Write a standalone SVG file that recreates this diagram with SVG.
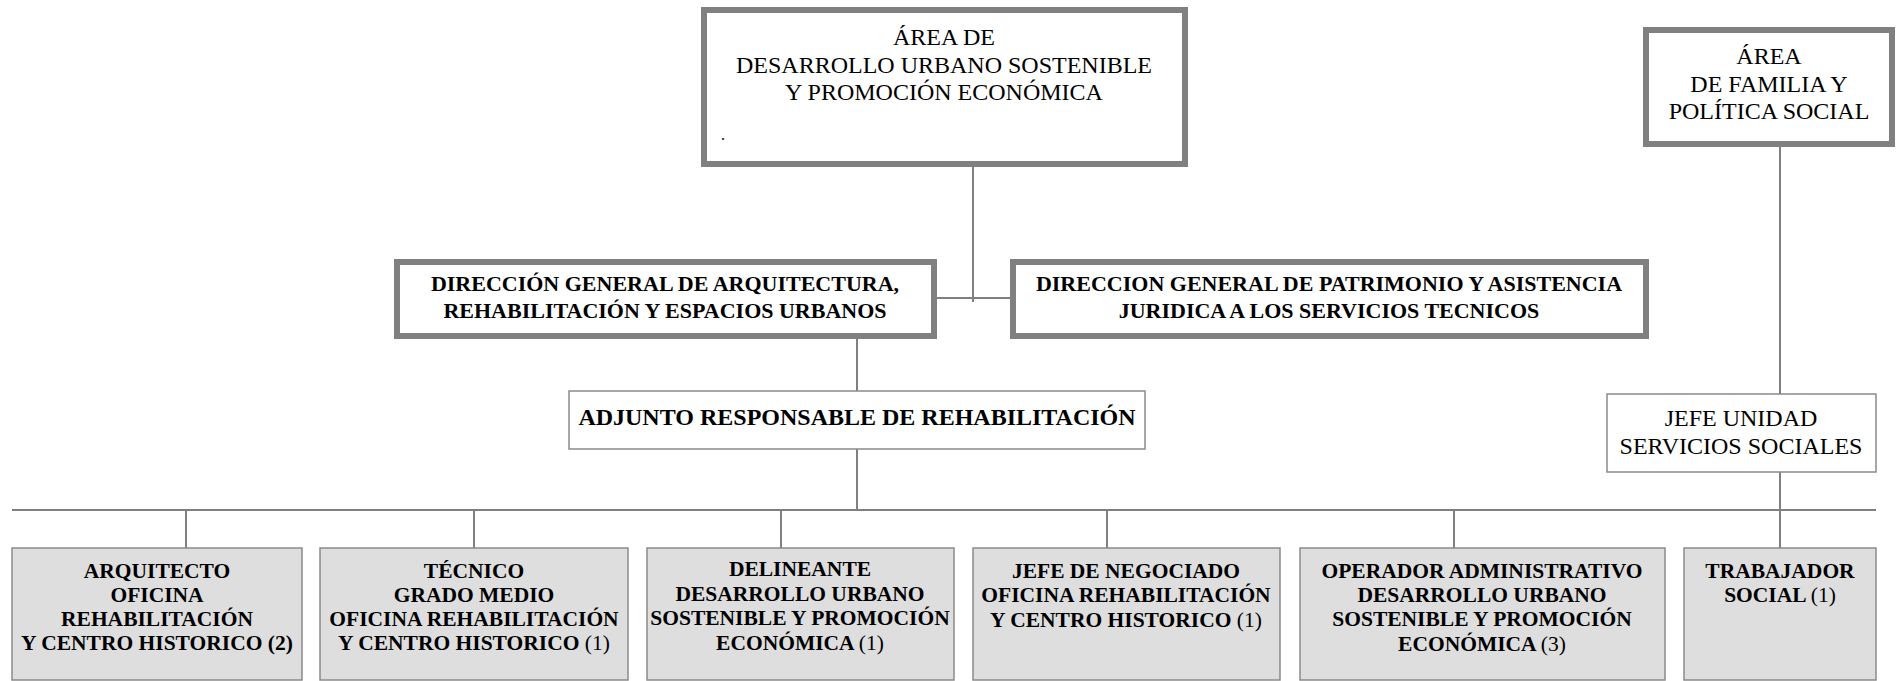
<svg xmlns="http://www.w3.org/2000/svg" width="1896" height="681" viewBox="0 0 1896 681">
<style>
  .thick { fill: #ffffff; stroke: #808080; stroke-width: 6; }
  .thin { fill: #ffffff; stroke: #8a8a8a; stroke-width: 1.5; }
  .grey { fill: #dedede; stroke: #8a8a8a; stroke-width: 1.5; }
  .conn line { stroke: #808080; stroke-width: 2; }
  text { font-family: "Liberation Serif", "Times New Roman", serif; fill: #000; text-anchor: middle; }
  .reg { font-size: 24px; }
  .b22 { font-size: 22px; font-weight: bold; }
  .b24 { font-size: 24px; font-weight: bold; }
  .b21 { font-size: 21.5px; font-weight: bold; }
  .n { font-weight: normal; }
</style>
<rect width="1896" height="681" fill="#ffffff"/>
<g class="conn" id="connectors">
  <line x1="973" y1="167" x2="973" y2="302"/>
  <line x1="937" y1="298" x2="1010" y2="298"/>
  <line x1="857" y1="339" x2="857" y2="391"/>
  <line x1="857" y1="449" x2="857" y2="510"/>
  <line x1="12" y1="510" x2="1876" y2="510"/>
  <line x1="186" y1="510" x2="186" y2="548"/>
  <line x1="474" y1="510" x2="474" y2="548"/>
  <line x1="781" y1="510" x2="781" y2="548"/>
  <line x1="1107" y1="510" x2="1107" y2="548"/>
  <line x1="1454" y1="510" x2="1454" y2="548"/>
  <line x1="1780" y1="147" x2="1780" y2="394"/>
  <line x1="1780" y1="472" x2="1780" y2="548"/>
</g>
<g id="area-desarrollo">
  <rect class="thick" x="704" y="10" width="481" height="154"/>
  <text class="reg" x="944" y="45">ÁREA DE</text>
  <text class="reg" x="944" y="73">DESARROLLO URBANO SOSTENIBLE</text>
  <text class="reg" x="944" y="100">Y PROMOCIÓN ECONÓMICA</text>
  <text x="723" y="140" style="font-size:16px">.</text>
</g>
<g id="area-familia">
  <rect class="thick" x="1646" y="30" width="246" height="114"/>
  <text class="reg" x="1769" y="64">ÁREA</text>
  <text class="reg" x="1769" y="92">DE FAMILIA Y</text>
  <text class="reg" x="1769" y="119">POLÍTICA SOCIAL</text>
</g>
<g id="dg-arquitectura">
  <rect class="thick" x="397" y="262" width="537" height="74"/>
  <text class="b22" x="665" y="291">DIRECCIÓN GENERAL DE ARQUITECTURA,</text>
  <text class="b22" x="665" y="318">REHABILITACIÓN Y ESPACIOS URBANOS</text>
</g>
<g id="dg-patrimonio">
  <rect class="thick" x="1013" y="262" width="633" height="74"/>
  <text class="b22" x="1329" y="291">DIRECCION GENERAL DE PATRIMONIO Y ASISTENCIA</text>
  <text class="b22" x="1329" y="318">JURIDICA A LOS SERVICIOS TECNICOS</text>
</g>
<g id="adjunto">
  <rect class="thin" x="569" y="391" width="576" height="58"/>
  <text class="b24" x="857" y="425">ADJUNTO RESPONSABLE DE REHABILITACIÓN</text>
</g>
<g id="jefe-unidad">
  <rect class="thin" x="1607" y="394" width="269" height="78"/>
  <text class="reg" x="1741" y="426">JEFE UNIDAD</text>
  <text class="reg" x="1741" y="454">SERVICIOS SOCIALES</text>
</g>
<g id="arquitecto">
  <rect class="grey" x="12" y="548" width="290" height="132"/>
  <text class="b21" x="157" y="578">ARQUITECTO</text>
  <text class="b21" x="157" y="602">OFICINA</text>
  <text class="b21" x="157" y="626">REHABILITACIÓN</text>
  <text class="b21" x="157" y="650">Y CENTRO HISTORICO (2)</text>
</g>
<g id="tecnico">
  <rect class="grey" x="320" y="548" width="308" height="132"/>
  <text class="b21" x="474" y="578">TÉCNICO</text>
  <text class="b21" x="474" y="602">GRADO MEDIO</text>
  <text class="b21" x="474" y="626">OFICINA REHABILITACIÓN</text>
  <text class="b21" x="474" y="650">Y CENTRO HISTORICO <tspan class="n">(1)</tspan></text>
</g>
<g id="delineante">
  <rect class="grey" x="647" y="548" width="307" height="132"/>
  <text class="b21" x="800" y="576">DELINEANTE</text>
  <text class="b21" x="800" y="601">DESARROLLO URBANO</text>
  <text class="b21" x="800" y="625">SOSTENIBLE Y PROMOCIÓN</text>
  <text class="b21" x="800" y="650">ECONÓMICA <tspan class="n">(1)</tspan></text>
</g>
<g id="jefe-negociado">
  <rect class="grey" x="973" y="548" width="307" height="132"/>
  <text class="b21" x="1126" y="578">JEFE DE NEGOCIADO</text>
  <text class="b21" x="1126" y="602">OFICINA REHABILITACIÓN</text>
  <text class="b21" x="1126" y="627">Y CENTRO HISTORICO <tspan class="n">(1)</tspan></text>
</g>
<g id="operador">
  <rect class="grey" x="1300" y="548" width="365" height="132"/>
  <text class="b21" x="1482" y="578">OPERADOR ADMINISTRATIVO</text>
  <text class="b21" x="1482" y="602">DESARROLLO URBANO</text>
  <text class="b21" x="1482" y="626">SOSTENIBLE Y PROMOCIÓN</text>
  <text class="b21" x="1482" y="651">ECONÓMICA <tspan class="n">(3)</tspan></text>
</g>
<g id="trabajador">
  <rect class="grey" x="1684" y="548" width="192" height="132"/>
  <text class="b21" x="1780" y="578">TRABAJADOR</text>
  <text class="b21" x="1780" y="602">SOCIAL <tspan class="n">(1)</tspan></text>
</g>
</svg>
